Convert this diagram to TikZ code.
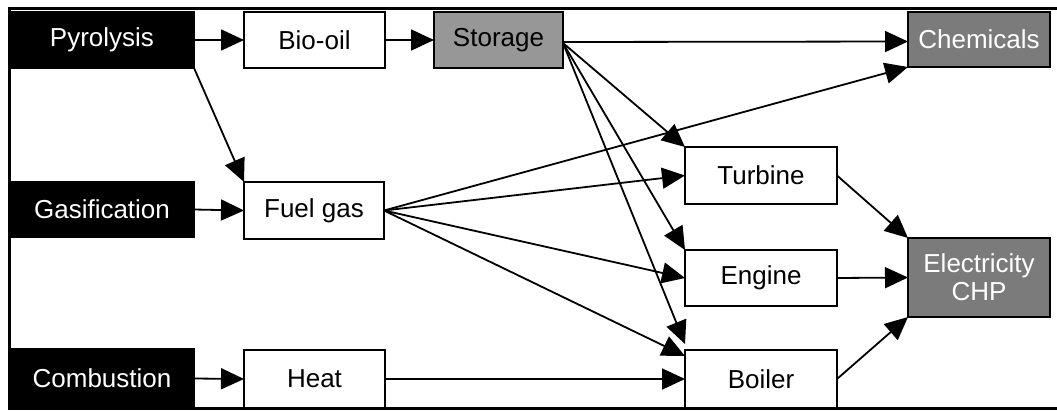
\documentclass[tikz,border=0pt]{standalone}
\usepackage{fontspec}
\setmainfont{Liberation Sans}
\usetikzlibrary{arrows.meta}
\definecolor{storgray}{HTML}{979797}
\definecolor{outgray}{HTML}{7B7B7B}
\begin{document}
\begin{tikzpicture}[x=1pt,y=-1pt,
  box/.style={draw=black,line width=1.8pt,inner sep=0pt,outer sep=0pt,align=center,
    font=\fontsize{26}{28}\selectfont},
  srcbox/.style={box,fill=black,text=white},
  midbox/.style={box,fill=white,text=black},
  storebox/.style={box,fill=storgray,text=black},
  outbox/.style={box,fill=outgray,text=white},
  conn/.style={line width=1.8pt,-{Triangle[length=23pt,width=21pt]}}
]
\useasboundingbox (0,0) rectangle (1057,410);
% frame
\draw[line width=3pt] (1057,8) -- (9,8) -- (9,408) -- (1057,408);
% nodes
\node[srcbox,minimum width=184pt,minimum height=56pt] (pyr) at (102,40) {Pyrolysis};
\node[midbox,minimum width=141pt,minimum height=56pt] (bio) at (314.5,40) {Bio-oil};
\node[storebox,minimum width=129pt,minimum height=56pt] (sto) at (498.5,40) {Storage};
\node[outbox,minimum width=142pt,minimum height=55pt] (chem) at (979,39.5) {Chemicals};
\node[srcbox,minimum width=184pt,minimum height=55pt] (gas) at (102,209.5) {Gasification};
\node[midbox,minimum width=140pt,minimum height=57pt] (fuel) at (314,210.5) {Fuel gas};
\node[srcbox,minimum width=184pt,minimum height=59pt] (comb) at (102,378.5) {Combustion};
\node[midbox,minimum width=141pt,minimum height=58pt] (heat) at (314.5,379) {Heat};
\node[midbox,minimum width=152pt,minimum height=57pt] (tur) at (761,175.5) {Turbine};
\node[midbox,minimum width=152pt,minimum height=56pt] (eng) at (761,278) {Engine};
\node[midbox,minimum width=152pt,minimum height=58pt] (boil) at (761,379) {Boiler};
\node[outbox,minimum width=142pt,minimum height=79pt] (chp) at (979,277.5) {Electricity\\CHP};
% connectors
\draw[conn] (pyr.east) -- (bio.west);
\draw[conn] (bio.east) -- (sto.west);
\draw[conn] ([yshift=-2pt]sto.east) -- ([yshift=-2pt]chem.west);
\draw[conn] ([yshift=-3pt]sto.east) -- (tur.north west);
\draw[conn] ([yshift=-3pt]sto.east) -- (eng.north west);
\draw[conn] ([yshift=-3pt]sto.east) -- ([yshift=6pt]boil.north west);
\draw[conn] (pyr.south east) -- (fuel.north west);
\draw[conn] (gas.east) -- (fuel.west);
\draw[conn] (fuel.east) -- (chem.south west);
\draw[conn] (fuel.east) -- (tur.west);
\draw[conn] (fuel.east) -- (eng.west);
\draw[conn] (fuel.east) -- ([yshift=-6pt]boil.north west);
\draw[conn] (comb.east) -- (heat.west);
\draw[conn] (heat.east) -- (boil.west);
\draw[conn] (tur.east) -- (chp.north west);
\draw[conn] (eng.east) -- (chp.west);
\draw[conn] (boil.east) -- (chp.south west);
\end{tikzpicture}
\end{document}
